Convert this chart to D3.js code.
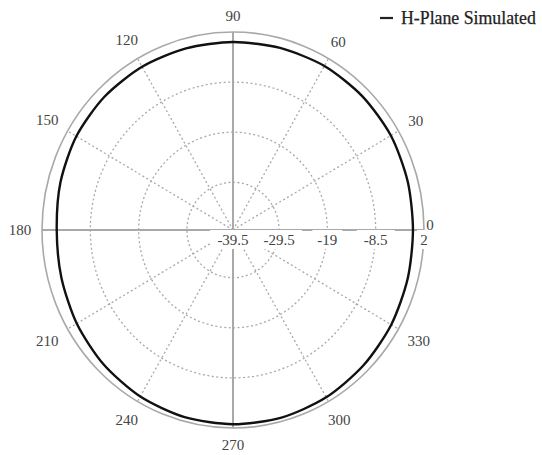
<!DOCTYPE html>
<html>
<head>
<meta charset="utf-8">
<script src="https://cdn.jsdelivr.net/npm/d3@7"></script>
<style>
  html, body { margin: 0; padding: 0; background: #fff; }
  svg { display: block; }
</style>
</head>
<body>
<svg id="chart" width="542" height="455" font-family="'Liberation Serif', 'Times New Roman', Tinos, serif"></svg>
<script>
// H-plane radiation pattern (dB) sampled every 15 degrees
const angles = [0, 15, 30, 45, 60, 75, 90, 105, 120, 135, 150, 165,
                180, 195, 210, 225, 240, 255, 270, 285, 300, 315, 330, 345];
const gainDb = [-0.4, -0.2, 0.1, 0.2, 0.2, 0.0, -0.1, -0.1, 0.0, 0.0, -0.2, -0.7,
                -1.2, -0.9, -0.3, 0.3, 0.8, 1.1, 1.2, 1.2, 1.0, 0.6, 0.2, -0.2];
const radialTicks = [-39.5, -29.5, -19, -8.5, 2];
const radialTickLabels = ["-39.5", "-29.5", "-19", "-8.5", "2"];
const angleTicks = [0, 30, 60, 90, 120, 150, 180, 210, 240, 270, 300, 330];
const seriesName = "H-Plane Simulated";

const svg = d3.select("#chart");
const cx = 233, cy = 230, rx = 191, ry = 198;
const grid = "#a9a9a9";

const r = d3.scaleLinear().domain([-39.5, 2]).range([0, 1]);
const rad = d => d * Math.PI / 180;
const px = (a, f) => cx + rx * f * Math.cos(rad(a));
const py = (a, f) => cy - ry * f * Math.sin(rad(a));

// dotted range rings
svg.append("g").selectAll("ellipse")
  .data(radialTicks.slice(1, -1))
  .join("ellipse")
  .attr("cx", cx).attr("cy", cy)
  .attr("rx", d => rx * r(d)).attr("ry", d => ry * r(d))
  .attr("fill", "none").attr("stroke", grid)
  .attr("stroke-width", 1.3).attr("stroke-dasharray", "2,2.5");

// dotted spokes
svg.append("g").selectAll("line")
  .data(angleTicks.filter(a => a % 90 !== 0))
  .join("line")
  .attr("x1", cx).attr("y1", cy)
  .attr("x2", a => px(a, 1)).attr("y2", a => py(a, 1))
  .attr("stroke", grid).attr("stroke-width", 1.3).attr("stroke-dasharray", "2,2.5");

// solid main axes
svg.append("g").selectAll("line")
  .data([0, 90, 180, 270])
  .join("line")
  .attr("x1", cx).attr("y1", cy)
  .attr("x2", a => px(a, 1)).attr("y2", a => py(a, 1))
  .attr("stroke", grid).attr("stroke-width", 2);

// outer boundary
svg.append("ellipse")
  .attr("cx", cx).attr("cy", cy).attr("rx", rx).attr("ry", ry)
  .attr("fill", "none").attr("stroke", grid).attr("stroke-width", 1.6);

// radial tick labels on the 0-degree axis
const rl = svg.append("g").selectAll("g")
  .data(radialTicks.map((v, i) => ({ v, label: radialTickLabels[i] })))
  .join("g")
  .attr("transform", d => `translate(${px(0, r(d.v))},${cy + 10})`);
rl.append("rect")
  .attr("x", d => -d.label.length * 4 - 3).attr("y", -10)
  .attr("width", d => d.label.length * 8 + 6).attr("height", 19)
  .attr("fill", "#fff");
rl.append("text")
  .attr("text-anchor", "middle").attr("dy", "0.35em")
  .attr("font-size", 15).attr("fill", "#444")
  .text(d => d.label);

// pattern trace
const pts = angles.map((a, i) => [px(a, r(gainDb[i])), py(a, r(gainDb[i]))]);
svg.append("path")
  .attr("d", d3.line().curve(d3.curveCardinalClosed.tension(0.2))(pts))
  .attr("fill", "none").attr("stroke", "#111").attr("stroke-width", 2.4);

// angle labels, pushed clear of the boundary by their own half-size
const labelPos = a => {
  const c = Math.cos(rad(a)), s = Math.sin(rad(a));
  const halfW = String(a).length * 3.7, halfH = 5.5;
  const off = a === 0 ? 6 : 11 + halfW * Math.abs(c) + halfH * Math.abs(s);
  return [cx + (rx + off) * c, cy - (ry + off) * s - (a === 0 ? 5 : 0)];
};
svg.append("g").selectAll("text")
  .data(angleTicks)
  .join("text")
  .attr("x", a => labelPos(a)[0])
  .attr("y", a => labelPos(a)[1])
  .attr("text-anchor", "middle").attr("dy", "0.35em")
  .attr("font-size", 15).attr("fill", "#444")
  .text(a => a);

// legend
const lg = svg.append("g").attr("transform", "translate(380,18)");
lg.append("line").attr("x1", 0).attr("x2", 13).attr("y1", 0).attr("y2", 0)
  .attr("stroke", "#222").attr("stroke-width", 2.2);
lg.append("text").attr("x", 21).attr("y", 0).attr("dy", "0.35em")
  .attr("font-size", 17.8).attr("fill", "#222")
  .attr("stroke", "#222").attr("stroke-width", 0.25)
  .text(seriesName);
</script>
</body>
</html>
